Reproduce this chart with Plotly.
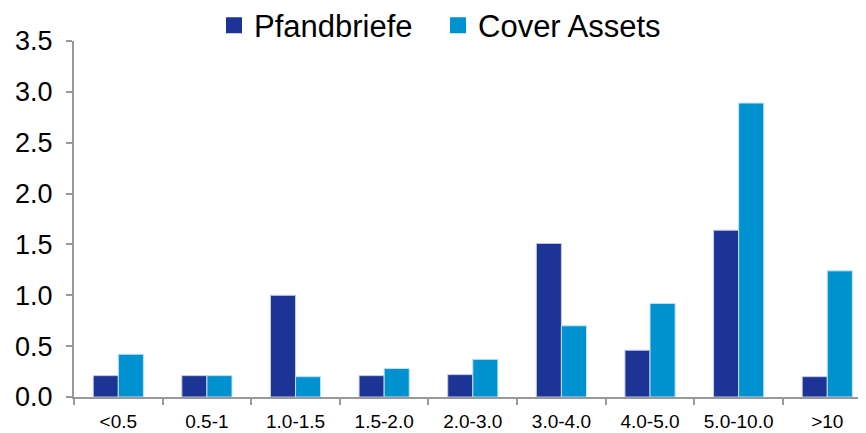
import plotly.graph_objects as go

categories = ["<0.5", "0.5-1", "1.0-1.5", "1.5-2.0", "2.0-3.0", "3.0-4.0", "4.0-5.0", "5.0-10.0", ">10"]
pfandbriefe = [0.21, 0.21, 1.00, 0.21, 0.22, 1.51, 0.46, 1.64, 0.20]
cover_assets = [0.42, 0.21, 0.20, 0.28, 0.37, 0.70, 0.92, 2.89, 1.24]
y_ticks = [0.0, 0.5, 1.0, 1.5, 2.0, 2.5, 3.0, 3.5]
series_names = ["Pfandbriefe", "Cover Assets"]
series_colors = ["#1B3495", "#0091D1"]
edge_colors = ["#C8CCE6", "#BFE3F3"]

fig = go.Figure()
for name, vals, col, edge in zip(series_names, [pfandbriefe, cover_assets], series_colors, edge_colors):
    fig.add_trace(go.Bar(x=categories, y=vals, name=name, showlegend=False,
                         marker=dict(color=col, line=dict(color=edge, width=1))))
# legend entries with larger square swatches
for name, col in zip(series_names, series_colors):
    fig.add_trace(go.Scatter(x=[None], y=[None], mode="markers", name=name,
                             marker=dict(symbol="square", size=16, color=col,
                                         line=dict(width=0))))

fig.update_layout(
    width=858, height=425,
    margin=dict(l=66, r=0, t=33, b=36, autoexpand=False),
    paper_bgcolor="white", plot_bgcolor="white",
    barmode="group", bargap=0.434, bargroupgap=0,
    font=dict(family="Liberation Sans, Arial, sans-serif", color="#000000"),
    legend=dict(orientation="h", xref="container", yref="container",
                x=206 / 858, xanchor="left", y=1 - 17.5 / 425, yanchor="middle",
                font=dict(size=31), itemwidth=30, entrywidth=179,
                traceorder="normal", bgcolor="rgba(0,0,0,0)"),
    showlegend=True,
)
fig.update_xaxes(
    range=[-0.5, 8.437],
    showline=True, linecolor="#999999", linewidth=2, automargin=False,
    tickson="boundaries", ticks="outside", ticklen=6, tickcolor="#999999", tickwidth=2,
    tickfont=dict(size=19), showgrid=False, zeroline=False, ticklabelstandoff=6,
)
fig.update_yaxes(
    range=[0, 3.5], tickvals=y_ticks, ticktext=[f"{v:.1f}" for v in y_ticks],
    showline=True, linecolor="#999999", linewidth=2, automargin=False,
    ticks="outside", ticklen=6, tickcolor="#999999", tickwidth=2,
    tickfont=dict(size=27), showgrid=False, zeroline=False, ticklabelstandoff=8,
)

fig.write_html("out.html")
